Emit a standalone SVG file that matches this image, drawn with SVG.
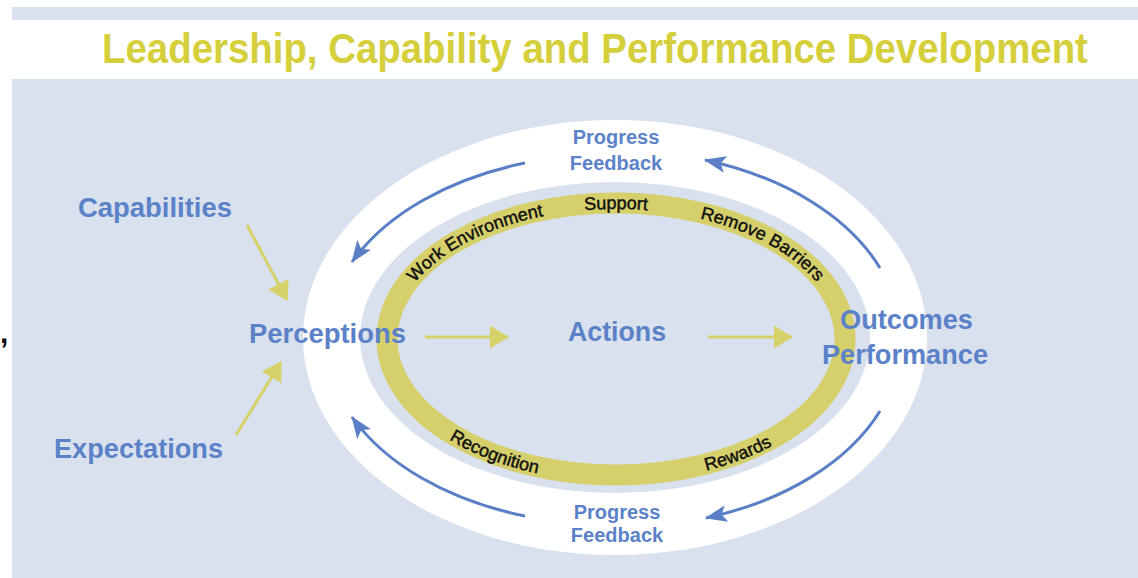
<svg xmlns="http://www.w3.org/2000/svg" width="1138" height="578" viewBox="0 0 1138 578">
<style>
  .blue { font-family: "Liberation Sans", Arial, sans-serif; font-weight: bold; fill: #5B82C8; }
  .big { font-size: 27px; }
  .small { font-size: 20px; }
  .ring { font-family: "Liberation Sans", Arial, sans-serif; font-size: 18px; fill: #111; stroke: #111; stroke-width: 0.45; }
  .barrow { fill: none; stroke: #5A7FC6; stroke-width: 3; }
  .yarrow { fill: none; stroke: #D6D168; stroke-width: 3; }
</style>
<defs>
  <marker id="bhead" markerUnits="userSpaceOnUse" markerWidth="22" markerHeight="17" viewBox="0 0 22 17" refX="21" refY="8.5" orient="auto">
    <path d="M0,0 L22,8.5 L0,17 L5,8.5 z" fill="#5A7FC6"/>
  </marker>
  <marker id="yhead" markerUnits="userSpaceOnUse" markerWidth="19" markerHeight="23" viewBox="0 0 19 23" refX="18" refY="11.5" orient="auto">
    <path d="M0,0 L19,11.5 L0,23 z" fill="#D6D168"/>
  </marker>
  <path id="topArc" d="M393,339 A223,130 0 0,1 839,339"/>
  <path id="botArc" d="M380.5,339 A235.5,142.5 0 0,0 851.5,339"/>
</defs>

<rect x="0" y="0" width="1138" height="578" fill="#FFFFFF"/>
<rect x="12" y="7" width="1126" height="13" fill="#D9E1EE"/>
<rect x="12" y="79" width="1126" height="499" fill="#D9E1EE"/>

<g id="title">
  <text transform="translate(102,63) scale(0.78,1)" x="0" y="0" textLength="1264" lengthAdjust="spacingAndGlyphs" font-family="'Liberation Sans', Arial, sans-serif" font-weight="bold" font-size="43" fill="#D4CF3A">Leadership, Capability and Performance Development</text>
</g>

<text x="0" y="343" font-family="'Liberation Sans', Arial, sans-serif" font-weight="bold" font-size="30" fill="#111">,</text>

<g id="cycle">
  <ellipse cx="615" cy="337.5" rx="312" ry="217.5" fill="#FFFFFF"/>
  <ellipse cx="615" cy="337.5" rx="255" ry="155.5" fill="#D9E1EE"/>
  <ellipse cx="616" cy="339" rx="229" ry="136" fill="none" stroke="#D5D06C" stroke-width="21"/>
</g>

<g id="ring-labels" class="ring">
  <text><textPath href="#topArc" startOffset="24%" text-anchor="middle">Work Environment</textPath></text>
  <text><textPath href="#topArc" startOffset="50%" text-anchor="middle">Support</textPath></text>
  <text><textPath href="#topArc" startOffset="77%" text-anchor="middle">Remove Barriers</textPath></text>
  <text><textPath href="#botArc" startOffset="29%" text-anchor="middle">Recognition</textPath></text>
  <text><textPath href="#botArc" startOffset="71%" text-anchor="middle">Rewards</textPath></text>
</g>

<g id="connectors">
  <path class="barrow" d="M525,163 A283,186 0 0,0 352,262" marker-end="url(#bhead)"/>
  <path class="barrow" d="M880,268 A283,186 0 0,0 705,160" marker-end="url(#bhead)"/>
  <path class="barrow" d="M525,516 A283,186 0 0,1 352,417" marker-end="url(#bhead)"/>
  <path class="barrow" d="M880,411 A283,186 0 0,1 706,518" marker-end="url(#bhead)"/>
  <path class="yarrow" d="M247,225 L287,300" marker-end="url(#yhead)"/>
  <path class="yarrow" d="M236,435 L281,362" marker-end="url(#yhead)"/>
  <path class="yarrow" d="M425,337 L508,337" marker-end="url(#yhead)"/>
  <path class="yarrow" d="M708,337 L792,337" marker-end="url(#yhead)"/>
</g>

<g id="capabilities"><text class="blue big" x="78" y="217" textLength="154" lengthAdjust="spacingAndGlyphs">Capabilities</text></g>
<g id="expectations"><text class="blue big" x="54" y="458" textLength="169" lengthAdjust="spacingAndGlyphs">Expectations</text></g>
<g id="perceptions"><text class="blue big" x="249" y="343" textLength="157" lengthAdjust="spacingAndGlyphs">Perceptions</text></g>
<g id="actions"><text class="blue big" x="568" y="341" textLength="98" lengthAdjust="spacingAndGlyphs">Actions</text></g>
<g id="outcomes">
  <text class="blue big" x="840" y="329" textLength="133" lengthAdjust="spacingAndGlyphs">Outcomes</text>
  <text class="blue big" x="822" y="364" textLength="166" lengthAdjust="spacingAndGlyphs">Performance</text>
</g>
<g id="feedback-top">
  <text class="blue small" x="616" y="144" text-anchor="middle">Progress</text>
  <text class="blue small" x="616" y="170" text-anchor="middle">Feedback</text>
</g>
<g id="feedback-bottom">
  <text class="blue small" x="617" y="519" text-anchor="middle">Progress</text>
  <text class="blue small" x="617" y="542" text-anchor="middle">Feedback</text>
</g>
</svg>
